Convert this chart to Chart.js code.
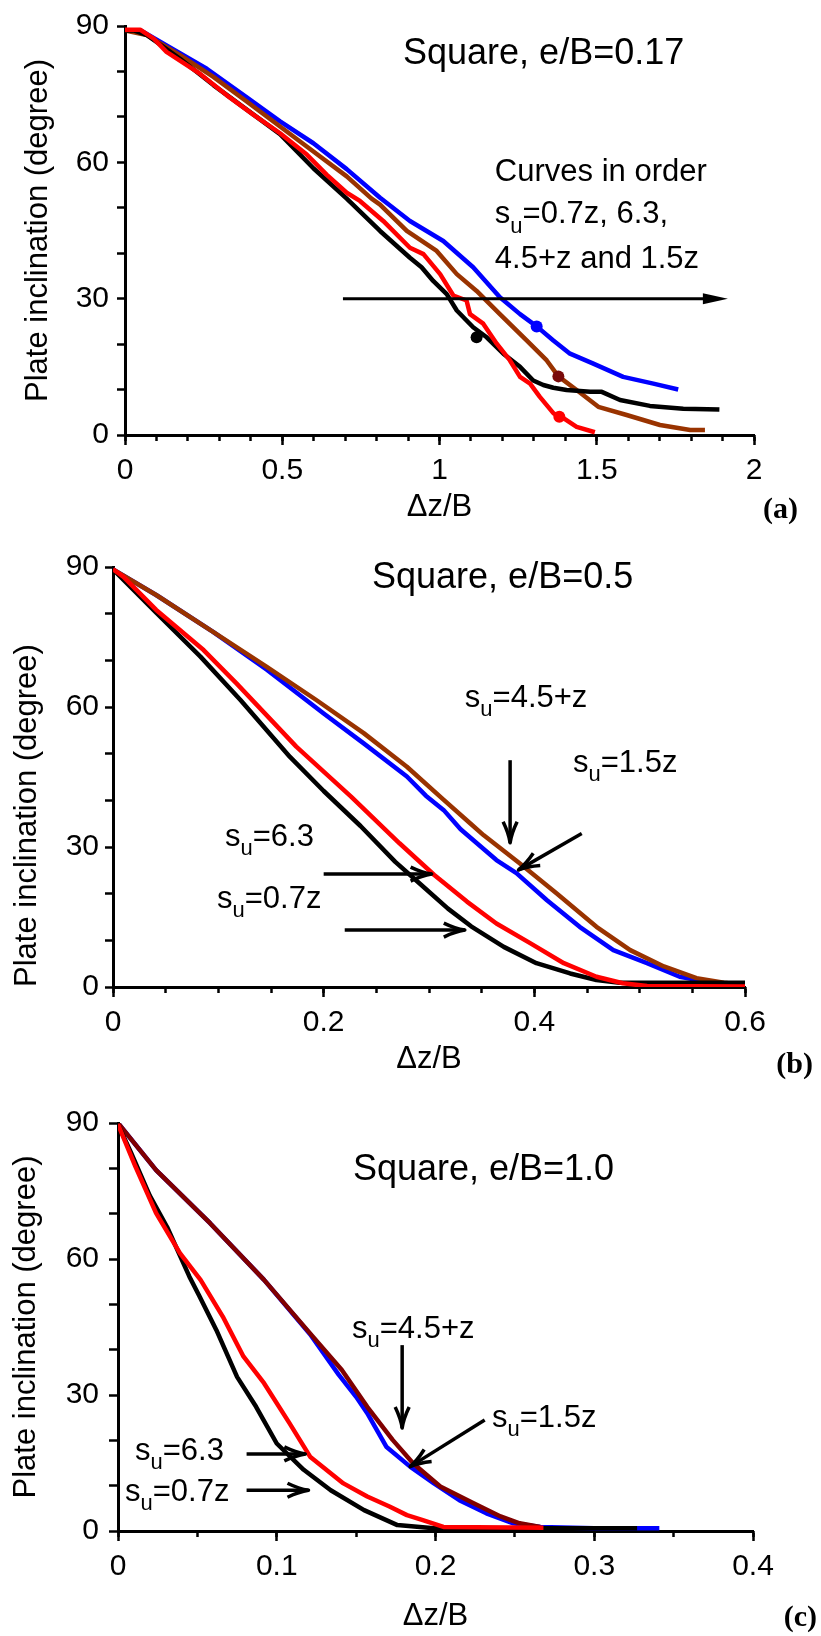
<!DOCTYPE html>
<html>
<head>
<meta charset="utf-8">
<script src="https://cdn.jsdelivr.net/npm/chart.js@4.4.1/dist/chart.umd.min.js"></script>
<style>
  html, body { margin: 0; padding: 0; background: #fff; }
  #wrap { position: relative; width: 821px; height: 1636px; }
  canvas { position: absolute; left: 0; }
</style>
</head>
<body>
<div id="wrap">
  <canvas id="panelA" width="821" height="540" style="top:0;width:821px;height:540px"></canvas>
  <canvas id="panelB" width="821" height="540" style="top:540px;width:821px;height:540px"></canvas>
  <canvas id="panelC" width="821" height="556" style="top:1080px;width:821px;height:556px"></canvas>
</div>
<script>
// ---------------- Panel (a): square plate, e/B = 0.17 ----------------
const aX_07z = [0, 0.03, 0.07, 0.175, 0.281, 0.387, 0.493, 0.599, 0.705, 0.811, 0.906, 0.943, 0.98, 1.023, 1.055, 1.107, 1.15, 1.203, 1.256, 1.298, 1.33, 1.362, 1.404, 1.479, 1.516, 1.574, 1.669, 1.775, 1.89];
const aY_07z = [89, 89, 88, 82.8, 77, 71.6, 66.2, 58.7, 52, 44.9, 39, 36.9, 33.9, 31, 27.4, 23.7, 21.5, 17.9, 15, 12, 11, 10.4, 9.9, 9.5, 9.5, 7.7, 6.4, 5.8, 5.6];
const aX_63 = [0, 0.048, 0.09, 0.132, 0.238, 0.323, 0.408, 0.493, 0.578, 0.641, 0.705, 0.747, 0.821, 0.906, 0.949, 1.002, 1.044, 1.086, 1.097, 1.139, 1.182, 1.224, 1.256, 1.288, 1.319, 1.362, 1.394, 1.436, 1.494];
const aY_63 = [89.2, 89.2, 87.3, 84.3, 79.5, 74.8, 70.5, 66.4, 61.7, 57.3, 53.3, 51.5, 47.1, 41.2, 39.8, 35.4, 30.7, 29.6, 26.6, 24.5, 20.1, 16.4, 12.8, 11.3, 8.4, 4.8, 3.7, 1.8, 0.6];
const aX_45z = [0, 0.069, 0.175, 0.281, 0.387, 0.493, 0.599, 0.705, 0.784, 0.811, 0.896, 0.991, 1.055, 1.118, 1.192, 1.277, 1.341, 1.378, 1.436, 1.505, 1.595, 1.701, 1.797, 1.844];
const aY_45z = [89, 88, 83.6, 78.8, 73.4, 67.9, 62.4, 56.9, 52, 50.7, 44.9, 40.5, 35.4, 31.7, 26.6, 20.8, 16.4, 12.9, 9.9, 6.2, 4.4, 2.2, 1.1, 1.1];
const aX_15z = [0, 0.05, 0.15, 0.26, 0.387, 0.493, 0.599, 0.705, 0.811, 0.906, 1.012, 1.107, 1.192, 1.256, 1.309, 1.362, 1.415, 1.489, 1.584, 1.68, 1.759];
const aY_15z = [89, 89, 85, 80.6, 74.3, 69, 64.2, 58.5, 52.2, 47.1, 42.7, 36.9, 30.3, 26.6, 23.9, 20.8, 17.9, 15.7, 12.8, 11.3, 10];
// highlighted states on each curve
const aMarkX = [1.118, 1.309, 1.378, 1.381];
const aMarkY = [21.5, 23.9, 12.9, 4.0];
const aXTicks = [0, 0.5, 1, 1.5, 2];

// ---------------- Panel (b): square plate, e/B = 0.5 ----------------
const bX_07z = [0, 0.041, 0.083, 0.121, 0.168, 0.2, 0.235, 0.268, 0.293, 0.318, 0.34, 0.371, 0.402, 0.434, 0.459, 0.481, 0.54, 0.6];
const bY_07z = [89.5, 80.2, 70.8, 61.5, 49.3, 42, 34.5, 26.8, 21.8, 16.8, 13, 8.6, 5.1, 2.9, 1.5, 0.9, 0.9, 0.9];
const bX_63 = [0, 0.01, 0.041, 0.086, 0.117, 0.174, 0.226, 0.272, 0.305, 0.336, 0.364, 0.396, 0.428, 0.459, 0.484, 0.507, 0.6];
const bY_63 = [89.5, 87.9, 80.8, 72.2, 65.1, 51.5, 40.8, 30.8, 24, 18.3, 13.6, 9.4, 5.1, 2.2, 0.8, 0.2, 0.1];
const bX_45z = [0, 0.041, 0.095, 0.146, 0.193, 0.238, 0.279, 0.314, 0.339, 0.352, 0.386, 0.421, 0.459, 0.491, 0.523, 0.554, 0.58, 0.6];
const bY_45z = [89.5, 84, 76.1, 68.6, 61.5, 54.4, 47.2, 40.1, 35.1, 32.5, 26.5, 20.1, 12.9, 7.9, 4.4, 1.9, 0.9, 0.4];
const bX_15z = [0, 0.041, 0.095, 0.146, 0.2, 0.238, 0.279, 0.297, 0.314, 0.33, 0.364, 0.383, 0.412, 0.443, 0.475, 0.507, 0.538, 0.57, 0.6];
const bY_15z = [89.5, 84, 76.1, 68, 58.6, 52.2, 45.1, 41, 37.9, 33.8, 27.2, 24.4, 18.6, 12.9, 7.9, 5.1, 2.2, 0.9, 0.4];
const bXTicks = [0, 0.2, 0.4, 0.6];

// ---------------- Panel (c): square plate, e/B = 1.0 ----------------
const cX_07z = [0, 0.008, 0.02, 0.031, 0.045, 0.051, 0.062, 0.075, 0.087, 0.1, 0.117, 0.134, 0.155, 0.176, 0.199, 0.26, 0.327];
const cY_07z = [89.7, 83.6, 74, 67, 56.1, 52, 44.3, 34, 27.4, 19.3, 13.5, 9, 4.6, 1.3, 0.6, 0.6, 0.6];
const cX_63 = [0, 0.011, 0.024, 0.039, 0.052, 0.066, 0.079, 0.092, 0.108, 0.121, 0.142, 0.157, 0.171, 0.182, 0.192, 0.205, 0.268];
const cY_63 = [89.7, 80.4, 70.1, 61.3, 55.4, 47.3, 38.5, 32.6, 23.8, 16.4, 10.5, 7.6, 5.4, 3.5, 2.4, 0.9, 0.7];
const cX_45z = [0, 0.024, 0.058, 0.092, 0.121, 0.141, 0.157, 0.173, 0.186, 0.203, 0.224, 0.241, 0.253, 0.266];
const cY_45z = [90, 79.6, 67.9, 55.4, 43.6, 35.5, 27.4, 20.1, 14.9, 9.8, 6.1, 3.2, 1.7, 0.9];
const cX_15z = [0, 0.024, 0.058, 0.092, 0.121, 0.139, 0.15, 0.157, 0.169, 0.184, 0.199, 0.215, 0.232, 0.249, 0.266, 0.3, 0.341];
const cY_15z = [90, 79.6, 67.9, 55.4, 43.4, 34.5, 29.6, 26, 18.6, 14.2, 10.5, 6.8, 3.9, 1.7, 0.9, 0.6, 0.6];
const cXTicks = [0, 0.1, 0.2, 0.3, 0.4];

// shared y axis labelling (degrees)
const yLabelled = [0, 30, 60, 90];

const SANS = '"Liberation Sans", Arial, Helvetica, sans-serif';
const SERIF = '"Liberation Serif", "Times New Roman", serif';
const BLUE = '#0000ff', RED = '#ff0000', BLACK = '#000000';

// ---------- annotation helpers ----------
function drawLabel(ctx, text, x, y, size) {
  const base = size + 'px ' + SANS;
  const sub = Math.round(size * 0.72) + 'px ' + SANS;
  ctx.fillStyle = '#000';
  ctx.textAlign = 'left';
  ctx.textBaseline = 'alphabetic';
  let cx = x;
  text.split(/(_.)/).forEach(part => {
    if (!part) return;
    if (part[0] === '_') {
      ctx.font = sub;
      ctx.fillText(part[1], cx, y + size * 0.3);
      cx += ctx.measureText(part[1]).width;
    } else {
      ctx.font = base;
      ctx.fillText(part, cx, y);
      cx += ctx.measureText(part).width;
    }
  });
}

function drawArrow(ctx, x1, y1, x2, y2, style) {
  const ang = Math.atan2(y2 - y1, x2 - x1);
  const c = Math.cos(ang), s = Math.sin(ang);
  ctx.strokeStyle = '#000';
  ctx.fillStyle = '#000';
  ctx.lineCap = 'butt';
  ctx.lineJoin = 'round';
  if (style === 'filled') {
    const L = 25, W = 5.5;
    const bx = x2 - L * c, by = y2 - L * s;
    ctx.lineWidth = 3;
    ctx.beginPath(); ctx.moveTo(x1, y1); ctx.lineTo(bx + 2 * c, by + 2 * s); ctx.stroke();
    ctx.beginPath();
    ctx.moveTo(x2, y2);
    ctx.lineTo(bx + W * s, by - W * c);
    ctx.lineTo(bx - W * s, by + W * c);
    ctx.closePath(); ctx.fill();
  } else {
    const L = 21, W = 7;
    const bx = x2 - L * c, by = y2 - L * s;
    ctx.lineWidth = 3.5;
    ctx.beginPath(); ctx.moveTo(x1, y1); ctx.lineTo(x2, y2); ctx.stroke();
    ctx.beginPath();
    ctx.moveTo(bx + W * s, by - W * c);
    ctx.quadraticCurveTo(x2 - L * 0.45 * c + W * 0.2 * s, y2 - L * 0.45 * s - W * 0.2 * c, x2, y2);
    ctx.quadraticCurveTo(x2 - L * 0.45 * c - W * 0.2 * s, y2 - L * 0.45 * s + W * 0.2 * c, bx - W * s, by + W * c);
    ctx.stroke();
  }
}

const annotPlugin = {
  id: 'annot',
  afterDatasetsDraw(chart, args, opts) {
    const ctx = chart.ctx;
    const xs = chart.scales.x, ys = chart.scales.y;
    const px = v => xs.getPixelForValue(v);
    const py = v => ys.getPixelForValue(v);
    ctx.save();
    (opts.arrows || []).forEach(a =>
      drawArrow(ctx, px(a.from[0]), py(a.from[1]), px(a.to[0]), py(a.to[1]), a.head));
    (opts.texts || []).forEach(t => drawLabel(ctx, t.text, px(t.at[0]), py(t.at[1]), t.size));
    if (opts.tag) {
      ctx.font = 'bold 30px ' + SERIF;
      ctx.fillStyle = '#000';
      ctx.textAlign = 'right';
      ctx.textBaseline = 'alphabetic';
      ctx.fillText(opts.tag.text, opts.tag.x, opts.tag.y);
    }
    ctx.restore();
  }
};

function series(xArr, yArr, color, label) {
  return {
    label: label,
    data: xArr.map((x, i) => ({ x: x, y: yArr[i] })),
    borderColor: color,
    backgroundColor: color,
    borderWidth: 4.5,
    pointRadius: 0,
    tension: 0,
    fill: false,
    borderJoinStyle: 'round',
    xAxisID: 'x',
    yAxisID: 'y'
  };
}

function fmt(v) { return String(Math.round(v * 1000) / 1000); }

function makePanel(id, p) {
  return new Chart(document.getElementById(id), {
    type: 'line',
    data: { datasets: p.datasets },
    options: {
      responsive: false,
      animation: false,
      devicePixelRatio: 1,
      layout: { padding: { top: p.top, right: p.right, left: 0, bottom: 0 } },
      plugins: {
        legend: { display: false },
        tooltip: { enabled: false },
        annot: p.annot
      },
      scales: {
        x: {
          type: 'linear', position: 'bottom', min: 0, max: p.xMax,
          afterBuildTicks: s => { s.ticks = p.xTicks.map(v => ({ value: v })); },
          afterFit: s => { s.height = p.xHeight; },
          ticks: { autoSkip: false, maxRotation: 0, padding: 8, color: '#000',
                   font: { family: SANS, size: 30 }, callback: v => fmt(v) },
          grid: { drawOnChartArea: false, drawTicks: true, tickLength: 10, tickWidth: 2.5, tickColor: '#000' },
          border: { display: true, color: '#000', width: 3 },
          title: { display: true, text: 'Δz/B', color: '#000',
                   font: { family: SANS, size: 31 }, padding: { top: 0, bottom: p.xTitlePad } }
        },
        xMinor: {
          type: 'linear', position: { y: 0 }, min: 0, max: p.xMax,
          ticks: { display: false, stepSize: p.xMinorStep, autoSkip: false },
          grid: { drawOnChartArea: false, drawTicks: true, tickLength: 6, tickWidth: 2.5, tickColor: '#000' },
          border: { display: false }
        },
        y: {
          type: 'linear', position: 'left', min: 0, max: 90,
          afterFit: s => { s.width = p.yWidth; },
          ticks: { stepSize: 10, autoSkip: false, padding: p.yTickPad, color: '#000',
                   font: { family: SANS, size: 30 },
                   callback: v => yLabelled.includes(v) ? String(v) : '' },
          grid: { drawOnChartArea: false, drawTicks: true, tickLength: p.yTickLen, tickWidth: 2.5, tickColor: '#000' },
          border: { display: true, color: '#000', width: 3 },
          title: { display: true, text: 'Plate inclination (degree)', color: '#000', align: p.yTitleAlign,
                   font: { family: SANS, size: 31 }, padding: { top: p.yTitlePad, bottom: 0 } }
        }
      }
    },
    plugins: [annotPlugin]
  });
}

// ---------- (a) ----------
makePanel('panelA', {
  top: 24, right: 67, yWidth: 125, xHeight: 105, xMax: 2,
  xTicks: aXTicks, xMinorStep: 0.1, xTitlePad: 14.4,
  yTickPad: 8, yTickLen: 8, yTitlePad: 19.4, yTitleAlign: 'center',
  datasets: [
    {
      label: 'markers', data: aMarkX.map((x, i) => ({ x: x, y: aMarkY[i] })),
      showLine: false, pointRadius: 6, pointBorderWidth: 0,
      pointBackgroundColor: [BLACK, BLUE, '#7a0a0a', RED],
      xAxisID: 'x', yAxisID: 'y'
    },
    series(aX_63, aY_63, RED, 's_u=6.3'),
    series(aX_07z, aY_07z, BLACK, 's_u=0.7z'),
    series(aX_45z, aY_45z, '#993300', 's_u=4.5+z'),
    series(aX_15z, aY_15z, BLUE, 's_u=1.5z')
  ],
  annot: {
    texts: [
      { text: 'Square, e/B=0.17', at: [0.884, 81.7], size: 36 },
      { text: 'Curves in order', at: [1.176, 55.8], size: 31 },
      { text: 's_u=0.7z, 6.3,', at: [1.176, 46.6], size: 31 },
      { text: '4.5+z and 1.5z', at: [1.176, 36.8], size: 31 }
    ],
    arrows: [{ from: [0.693, 30], to: [1.917, 30], head: 'filled' }],
    tag: { text: '(a)', x: 798, y: 518 }
  }
});

// ---------- (b) ----------
makePanel('panelB', {
  top: 27, right: 76, yWidth: 113, xHeight: 93, xMax: 0.6,
  xTicks: bXTicks, xMinorStep: 0.05, xTitlePad: 2.4,
  yTickPad: 6, yTickLen: 8, yTitlePad: 8.9, yTitleAlign: 'start',
  datasets: [
    series(bX_63, bY_63, RED, 's_u=6.3'),
    series(bX_07z, bY_07z, BLACK, 's_u=0.7z'),
    series(bX_45z, bY_45z, '#993300', 's_u=4.5+z'),
    series(bX_15z, bY_15z, BLUE, 's_u=1.5z')
  ],
  annot: {
    texts: [
      { text: 'Square, e/B=0.5', at: [0.2459, 85.5], size: 36 },
      { text: 's_u=4.5+z', at: [0.334, 60], size: 31 },
      { text: 's_u=1.5z', at: [0.4367, 46.1], size: 31 },
      { text: 's_u=6.3', at: [0.1063, 30.2], size: 31 },
      { text: 's_u=0.7z', at: [0.0987, 16.9], size: 31 }
    ],
    arrows: [
      { from: [0.377, 48.6], to: [0.377, 30.9], head: 'open' },
      { from: [0.445, 32.9], to: [0.385, 25.1], head: 'open' },
      { from: [0.2, 24.2], to: [0.3025, 24.2], head: 'open' },
      { from: [0.22, 12.2], to: [0.334, 12.2], head: 'open' }
    ],
    tag: { text: '(b)', x: 813, y: 533 }
  }
});

// ---------- (c) ----------
makePanel('panelC', {
  top: 43, right: 68, yWidth: 118, xHeight: 105, xMax: 0.4,
  xTicks: cXTicks, xMinorStep: 0.05, xTitlePad: 1.4,
  yTickPad: 10, yTickLen: 9, yTitlePad: 7.4, yTitleAlign: 'center',
  datasets: [
    series(cX_63, cY_63, RED, 's_u=6.3'),
    series(cX_07z, cY_07z, BLACK, 's_u=0.7z'),
    series(cX_45z, cY_45z, '#800000', 's_u=4.5+z'),
    series(cX_15z, cY_15z, BLUE, 's_u=1.5z')
  ],
  annot: {
    texts: [
      { text: 'Square, e/B=1.0', at: [0.148, 77.4], size: 36 },
      { text: 's_u=4.5+z', at: [0.1474, 42.6], size: 31 },
      { text: 's_u=1.5z', at: [0.2356, 22.9], size: 31 },
      { text: 's_u=6.3', at: [0.0107, 15.7], size: 31 },
      { text: 's_u=0.7z', at: [0.0044, 6.6], size: 31 }
    ],
    arrows: [
      { from: [0.179, 41.0], to: [0.179, 22.7], head: 'open' },
      { from: [0.231, 24.5], to: [0.184, 14.2], head: 'open' },
      { from: [0.081, 17], to: [0.118, 17], head: 'open' },
      { from: [0.081, 9], to: [0.12, 9], head: 'open' }
    ],
    tag: { text: '(c)', x: 817, y: 546 }
  }
});
</script>
</body>
</html>
